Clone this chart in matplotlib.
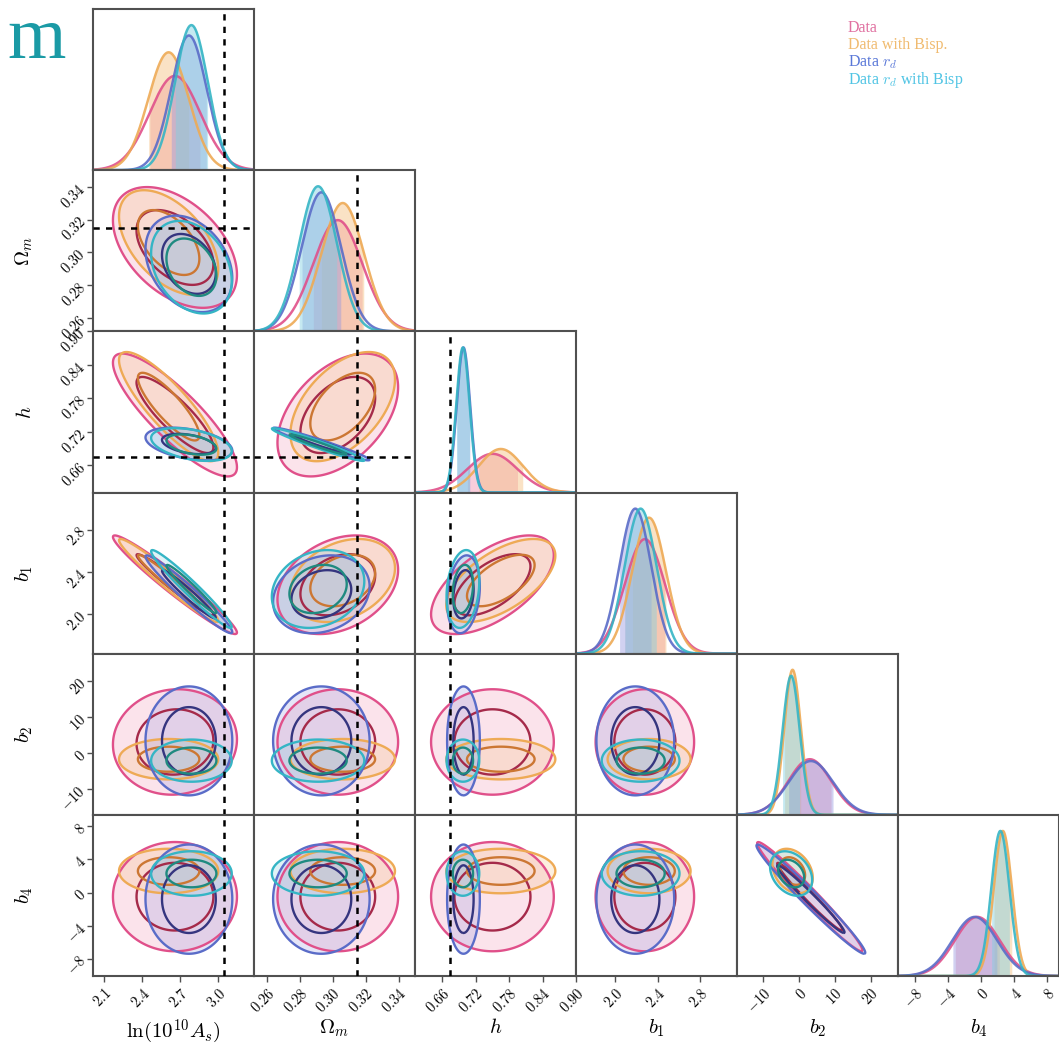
import numpy as np
import matplotlib
matplotlib.use('Agg')
import matplotlib.pyplot as plt

plt.rcParams['mathtext.fontset'] = 'cm'
plt.rcParams['font.family'] = ['DejaVu Serif']

# ---------------- data ----------------
param_labels = [r'$\ln(10^{10}A_s)$', r'$\Omega_m$', r'$h$', r'$b_1$', r'$b_2$', r'$b_4$']
series_names = ['Data', 'Data with Bisp.', r'Data $r_d$', r'Data $r_d$ with Bisp']

# means / standard deviations per parameter: lnAs, Om, h, b1, b2, b4
mean_data = [2.66, 0.303, 0.750, 2.28, 3.0, -0.5]
sd_data = [0.20, 0.015, 0.045, 0.19, 6.0, 2.7]
mean_bisp = [2.61, 0.306, 0.765, 2.32, -1.8, 2.6]
sd_bisp = [0.16, 0.013, 0.040, 0.16, 2.3, 1.1]
mean_rd = [2.77, 0.293, 0.698, 2.19, 3.3, -0.8]
sd_rd = [0.14, 0.012, 0.012, 0.15, 6.2, 2.7]
mean_rd_bisp = [2.79, 0.291, 0.697, 2.24, -2.2, 2.3]
sd_rd_bisp = [0.13, 0.0115, 0.012, 0.15, 2.4, 1.1]

# correlations for pairs (0,1),(0,2),(0,3),(0,4),(0,5),(1,2),(1,3),(1,4),(1,5),
# (2,3),(2,4),(2,5),(3,4),(3,5),(4,5)
corr_data = [-0.45, -0.85, -0.97, 0.05, 0.0, 0.45, 0.30, 0.0, 0.0, 0.60, 0.0, 0.0, 0.0, 0.0, -0.98]
corr_bisp = [-0.50, -0.85, -0.97, 0.0, 0.0, 0.50, 0.30, 0.0, 0.0, 0.60, 0.0, 0.0, 0.0, 0.0, -0.30]
corr_rd = [-0.30, -0.40, -0.97, 0.0, 0.0, -0.97, 0.20, 0.0, 0.0, 0.20, 0.0, 0.0, 0.0, 0.0, -0.98]
corr_rd_bisp = [-0.30, -0.40, -0.97, 0.0, 0.0, -0.97, 0.20, 0.0, 0.0, 0.20, 0.0, 0.0, 0.0, 0.0, -0.30]

truth = [3.044, 0.315, 0.674, None, None, None]

axis_ranges = [(2.013, 3.284), (0.252, 0.350), (0.611, 0.900), (1.63, 3.15), (-17.3, 27.6), (-10.1, 9.4)]
tick_values = [[2.1, 2.4, 2.7, 3.0], [0.26, 0.28, 0.30, 0.32, 0.34],
               [0.66, 0.72, 0.78, 0.84, 0.90], [2.0, 2.4, 2.8],
               [-10, 0, 10, 20], [-8, -4, 0, 4, 8]]
tick_labels = [['2.1', '2.4', '2.7', '3.0'], ['0.26', '0.28', '0.30', '0.32', '0.34'],
               ['0.66', '0.72', '0.78', '0.84', '0.90'], ['2.0', '2.4', '2.8'],
               ['-10', '0', '10', '20'], ['-8', '-4', '0', '4', '8']]

# ---------------- styles ----------------
means = [mean_data, mean_bisp, mean_rd, mean_rd_bisp]
sds = [sd_data, sd_bisp, sd_rd, sd_rd_bisp]
corrs = [corr_data, corr_bisp, corr_rd, corr_rd_bisp]
line_cols = ['#e0508a', '#eeaa55', '#5a6cc8', '#35b5c5']
inner_cols = ['#a52a4a', '#cc7733', '#35357f', '#1f8a80']
fill_cols = ['#f090b0', '#f5c080', '#9a9ae0', '#80d0e0']
legend_cols = ['#e070a0', '#f0bb70', '#5a78d8', '#50c4e4']

pairs = [(i, j) for i in range(6) for j in range(i + 1, 6)]

W, H = 1059, 1053
fig = plt.figure(figsize=(W / 100, H / 100), dpi=100)
left, right, top, bottom = 93 / W, 1.0, 1 - 9 / H, 1 - 976 / H
cw = (right - left) / 6
ch = (top - bottom) / 6

n = 6
dash = dict(color='black', lw=1.8, ls=(0, (2.5, 2.5)), zorder=10)

for row in range(n):
    for col in range(row + 1):
        ax = fig.add_axes([left + col * cw, top - (row + 1) * ch, cw, ch])
        for s in ax.spines.values():
            s.set_linewidth(1.5)
            s.set_color('#505050')
        ax.set_xlim(axis_ranges[col])
        if row == col:
            x = np.linspace(*axis_ranges[col], 400)
            ymax = 0
            for k in range(4):
                m, sd = means[k][col], sds[k][col]
                pdf = np.exp(-0.5 * ((x - m) / sd) ** 2) / (np.sqrt(2 * np.pi) * sd)
                ymax = max(ymax, pdf.max())
                msk = np.abs(x - m) <= sd
                ax.fill_between(x[msk], 0, pdf[msk], color=fill_cols[k], alpha=0.45, lw=0)
                ax.plot(x, pdf, color=line_cols[k], lw=1.8, alpha=0.9)
            ax.set_ylim(0, ymax / 0.9)
            ax.set_yticks([])
            if truth[col] is not None:
                ax.axvline(truth[col], **dash)
        else:
            ax.set_ylim(axis_ranges[row])
            x = np.linspace(*axis_ranges[col], 240)
            y = np.linspace(*axis_ranges[row], 240)
            X, Y = np.meshgrid(x, y)
            pi = pairs.index((col, row))
            for k in range(4):
                mx, my = means[k][col], means[k][row]
                sx, sy = sds[k][col], sds[k][row]
                r = corrs[k][pi]
                u = (X - mx) / sx
                v = (Y - my) / sy
                R2 = (u * u - 2 * r * u * v + v * v) / (1 - r * r)
                ax.contourf(X, Y, R2, levels=[0, 2.30, 5.99], colors=[fill_cols[k], fill_cols[k]],
                            alpha=0.25)
                ax.contour(X, Y, R2, levels=[5.99], colors=[line_cols[k]], linewidths=1.7)
                ax.contour(X, Y, R2, levels=[2.30], colors=[inner_cols[k]], linewidths=1.7)
            if truth[col] is not None:
                ax.axvline(truth[col], **dash)
            if truth[row] is not None:
                ax.axhline(truth[row], **dash)
        # ticks
        if row == n - 1:
            ax.set_xticks(tick_values[col])
            ax.set_xticklabels(['$' + t + '$' for t in tick_labels[col]], rotation=45,
                               ha='right', va='top', rotation_mode='anchor', fontsize=10.5)
            ax.tick_params(axis='x', direction='out', length=4, width=1, color='#505050', pad=3)
            ax.set_xlabel(param_labels[col], fontsize=15)
            ax.xaxis.set_label_coords(0.5, -0.26)
        else:
            ax.set_xticks([])
        if col == 0 and row > 0:
            ax.set_yticks(tick_values[row])
            ax.set_yticklabels(['$' + t + '$' for t in tick_labels[row]], rotation=45,
                               ha='right', va='center', rotation_mode='anchor', fontsize=10.5)
            ax.tick_params(axis='y', direction='out', length=4, width=1, color='#505050', pad=3)
            ax.set_ylabel(param_labels[row], fontsize=15)
            ax.yaxis.set_label_coords(-0.36, 0.5)
        elif row != col:
            ax.set_yticks([])

# legend
for k in range(4):
    fig.text(848 / W, 1 - (28 + 17.3 * k) / H, series_names[k], color=legend_cols[k],
             fontsize=11.5, ha='left', va='center', family='Liberation Serif')

# partial slide title
fig.text(66 / W, 1 - 40 / H, 'm', color='#1a9aa5', fontsize=54, ha='right', va='center',
         family='Liberation Serif')

fig.savefig('out.png', dpi=100)
